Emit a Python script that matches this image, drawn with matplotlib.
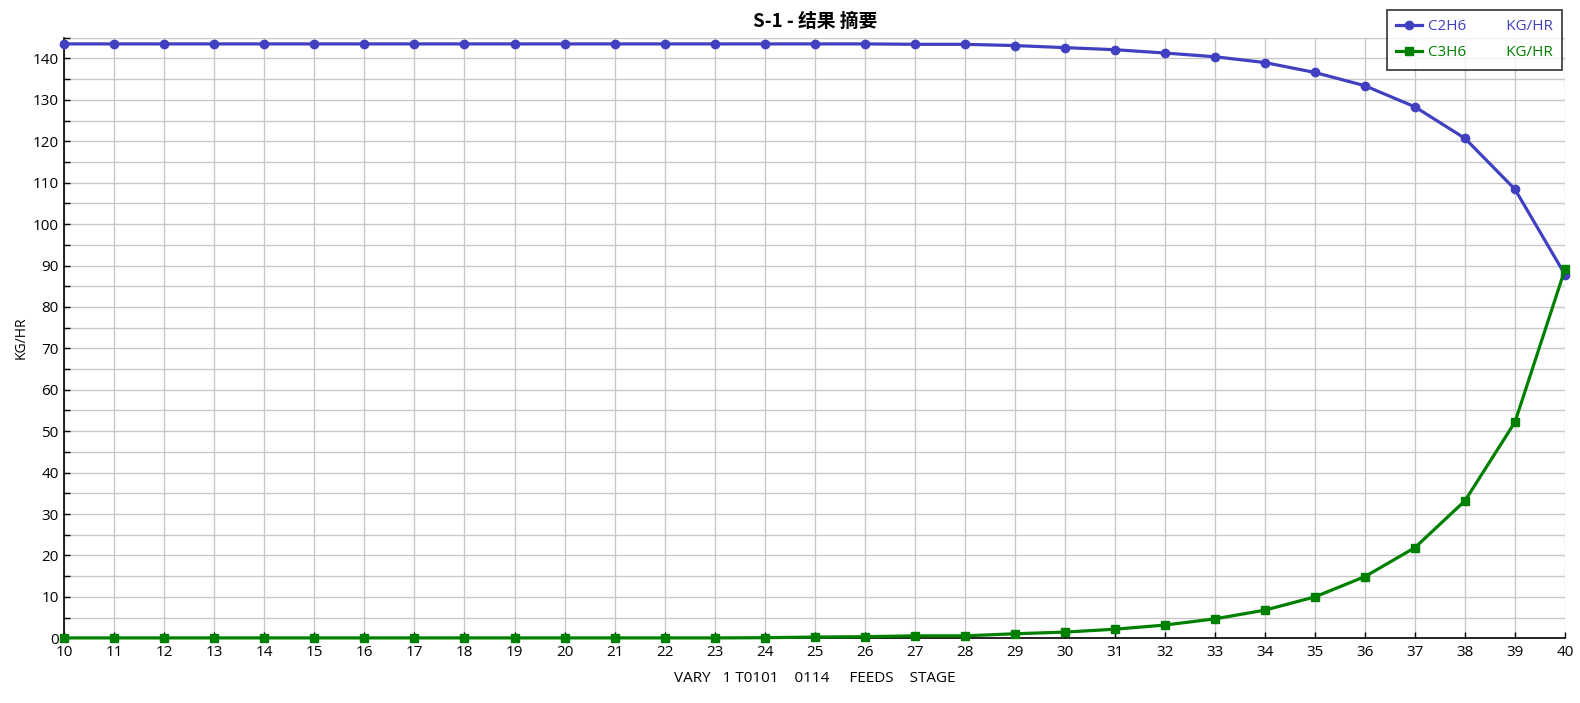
import matplotlib
matplotlib.use("Agg")
import matplotlib.pyplot as plt
from matplotlib.ticker import MultipleLocator

plt.rcParams['font.family'] = ['Open Sans', 'Noto Sans CJK SC', 'DejaVu Sans']

stages = list(range(10, 41))
c2h6 = [143.5] * 16 + [143.5, 143.4, 143.4, 143.1, 142.6, 142.1, 141.3, 140.4, 139.0,
                       136.6, 133.4, 128.3, 120.7, 108.4, 87.8]
c3h6 = [0.1] * 14 + [0.15, 0.3, 0.4, 0.6, 0.6, 1.1, 1.5, 2.2, 3.2, 4.7, 6.8,
                     10.0, 14.9, 21.9, 33.2, 52.2, 89.1]
series_names = ["C2H6", "C3H6"]
unit = "KG/HR"
title = "S-1 - 结果 摘要"
xlabel = "VARY   1 T0101    0114     FEEDS    STAGE"
ylabel = "KG/HR"

blue = "#4040C0"
green = "#008000"

fig = plt.figure(figsize=(15.8, 7.03), dpi=100)
ax = fig.add_axes([0.0407, 0.0920, 0.9498, 0.8544])

l1, = ax.plot(stages, c2h6, color=blue, lw=2.3, marker='o', ms=6, clip_on=False, zorder=3,
              label=f"{series_names[0]}          {unit}")
l2, = ax.plot(stages, c3h6, color=green, lw=2.3, marker='s', ms=6, clip_on=False, zorder=4,
              label=f"{series_names[1]}          {unit}")

ax.set_xlim(10, 40)
ax.set_ylim(0, 145)
ax.xaxis.set_major_locator(MultipleLocator(1))
ax.yaxis.set_major_locator(MultipleLocator(10))
ax.yaxis.set_minor_locator(MultipleLocator(5))
ax.grid(True, which='both', color='#c8c8c8', lw=1)
ax.set_axisbelow(True)
for s in ['top', 'right']:
    ax.spines[s].set_visible(False)
for s in ['left', 'bottom']:
    ax.spines[s].set_color('black')
    ax.spines[s].set_linewidth(1.2)
ax.tick_params(axis='both', which='both', direction='in', length=4, width=1,
               labelsize=11, colors='black', pad=4)
ax.tick_params(axis='x', pad=5)

ax.set_title(title, fontsize=13.5, fontweight='bold', pad=8,
             family=['Noto Sans CJK SC', 'DejaVu Sans'])
ax.set_xlabel(xlabel, fontsize=11, labelpad=8)
ax.set_ylabel(ylabel, fontsize=10, labelpad=3)

leg = fig.legend(handles=[l1, l2], loc='upper right', bbox_to_anchor=(0.9886, 0.986),
                 borderaxespad=0, fontsize=11, frameon=True, fancybox=False,
                 handlelength=1.7, handletextpad=0.4, borderpad=0.6, labelspacing=0.75)
leg.get_frame().set_edgecolor('black')
leg.get_frame().set_linewidth(1.2)
for txt, c in zip(leg.get_texts(), [blue, green]):
    txt.set_color(c)

fig.savefig("out.png", dpi=100)
